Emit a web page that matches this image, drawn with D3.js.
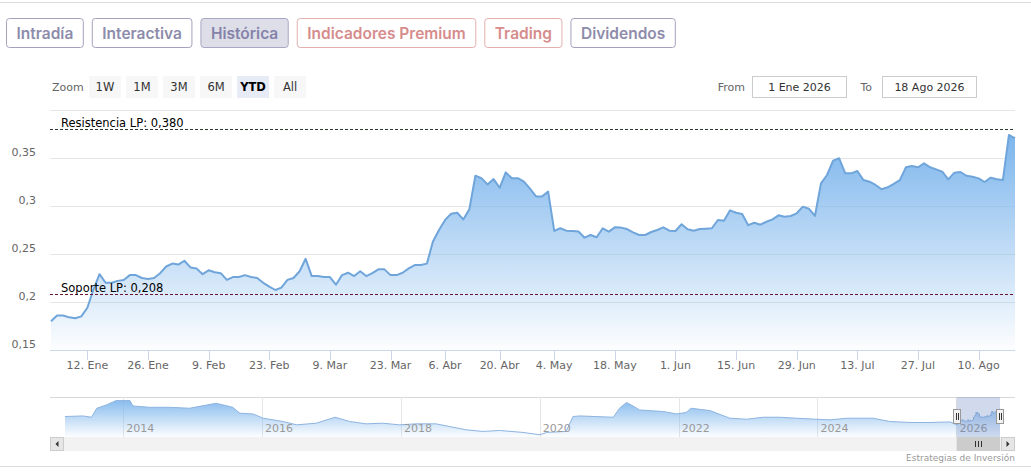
<!DOCTYPE html>
<html>
<head>
<meta charset="utf-8">
<script src="https://cdn.jsdelivr.net/npm/d3@7"></script>
<style>
body { margin: 0; background: #fff; }
svg text { font-family: "DejaVu Sans", Verdana, sans-serif; }
</style>
</head>
<body>
<div id="chart"></div>
<script>
/*global d3*/

//tabs above the chart
var tabs = ["Intradía", "Interactiva", "Histórica", "Indicadores Premium", "Trading", "Dividendos"];
var activeTab = "Histórica";
var premiumTabs = ["Indicadores Premium", "Trading"];

//range selector
var rangeButtons = ["1W", "1M", "3M", "6M", "YTD", "All"];
var activeRange = "YTD";
var fromLabel = "1 Ene 2026",
    toLabel = "18 Ago 2026";

//trading calendar 2026 (closing days of the market)
var firstDay = "2026-01-01",
    lastDay = "2026-08-18";
var holidays = ["2026-01-01", "2026-04-03", "2026-04-06", "2026-05-01"];

//daily closes, one per trading day
var closes = [
    0.180, 0.186, 0.186, 0.184, 0.183, 0.185, 0.194, 0.213, 0.229, 0.220,
    0.220, 0.222, 0.223, 0.228, 0.228, 0.225, 0.224, 0.225, 0.230, 0.237,
    0.240, 0.239, 0.243, 0.236, 0.235, 0.229, 0.233, 0.231, 0.230, 0.223,
    0.226, 0.226, 0.228, 0.226, 0.225, 0.220, 0.216, 0.2125, 0.215, 0.223,
    0.225, 0.232, 0.245, 0.227, 0.227, 0.226, 0.226, 0.218, 0.228, 0.2305,
    0.227, 0.232, 0.227, 0.230, 0.234, 0.234, 0.228, 0.228, 0.2305, 0.235,
    0.2385, 0.2385, 0.240, 0.263, 0.275, 0.2855, 0.292, 0.293, 0.286, 0.2965,
    0.3315, 0.329, 0.3225, 0.328, 0.319, 0.335, 0.329, 0.329, 0.3255, 0.318,
    0.310, 0.310, 0.315, 0.274, 0.2768, 0.2743, 0.274, 0.2735, 0.267, 0.2698,
    0.2674, 0.2768, 0.2733, 0.2778, 0.2775, 0.276, 0.2726, 0.2698, 0.2698, 0.2729,
    0.275, 0.2778, 0.2743, 0.274, 0.281, 0.2757, 0.2743, 0.276, 0.2764, 0.2768,
    0.2854, 0.2847, 0.2955, 0.293, 0.2917, 0.280, 0.2826, 0.2805, 0.2836, 0.2861,
    0.2903, 0.2889, 0.2896, 0.2924, 0.2993, 0.2972, 0.2896, 0.3236, 0.3323, 0.3472,
    0.3497, 0.334, 0.334, 0.3365, 0.327, 0.3253, 0.3219, 0.3174, 0.3195, 0.323,
    0.327, 0.3403, 0.3417, 0.3403, 0.3445, 0.3403, 0.3382, 0.3357, 0.3278, 0.3347,
    0.3354, 0.3315, 0.3305, 0.3288, 0.325, 0.3295, 0.3278, 0.327, 0.374, 0.3705
];

//support / resistance lines
var resistencia = 0.380,
    soporte = 0.208;

//axis ticks
var yTicks = [0.15, 0.2, 0.25, 0.3, 0.35, 0.4];
var xTickDates = ["2026-01-12", "2026-01-26", "2026-02-09", "2026-02-23", "2026-03-09", "2026-03-23",
    "2026-04-06", "2026-04-20", "2026-05-04", "2026-05-18", "2026-06-01", "2026-06-15",
    "2026-06-29", "2026-07-13", "2026-07-27", "2026-08-10"];
var meses = ["Ene", "Feb", "Mar", "Abr", "May", "Jun", "Jul", "Ago", "Sep", "Oct", "Nov", "Dic"];

//long history for the navigator
var navDates = ["2013-03-01", "2013-06-03", "2013-07-19", "2013-08-15", "2013-10-04", "2013-11-25",
    "2014-02-06", "2014-02-21", "2014-05-19", "2014-09-02", "2014-12-16",
    "2015-05-05", "2015-07-31", "2015-09-07", "2015-11-14",
    "2016-01-08", "2016-04-20", "2016-07-01", "2016-10-12",
    "2017-01-19", "2017-04-06", "2017-07-01", "2017-09-27", "2017-12-24",
    "2018-03-22", "2018-07-05", "2018-09-13", "2018-12-10",
    "2019-03-07", "2019-06-03", "2019-10-05",
    "2020-01-02", "2020-02-07", "2020-05-19", "2020-06-24", "2020-07-31",
    "2021-01-22", "2021-02-24", "2021-04-01", "2021-04-27", "2021-06-10", "2021-10-12", "2021-12-20",
    "2022-02-09", "2022-03-07", "2022-06-14", "2022-09-27", "2022-12-24",
    "2023-03-22", "2023-06-18", "2023-09-13", "2023-12-24",
    "2024-03-07", "2024-06-03", "2024-10-19",
    "2025-01-15", "2025-05-01", "2025-08-15", "2025-11-28"];
var navValues = [0.281, 0.288, 0.272, 0.382, 0.422, 0.476,
    0.476, 0.410, 0.394, 0.394, 0.382,
    0.443, 0.394, 0.321, 0.313,
    0.260, 0.220, 0.179, 0.199,
    0.272, 0.220, 0.191, 0.199, 0.179,
    0.191, 0.191, 0.159, 0.118,
    0.098, 0.110, 0.086,
    0.057, 0.086, 0.098, 0.281, 0.288,
    0.272, 0.382, 0.452, 0.422, 0.361, 0.342, 0.313,
    0.330, 0.382, 0.354, 0.260, 0.248,
    0.272, 0.272, 0.260, 0.248,
    0.240, 0.260, 0.260,
    0.220, 0.208, 0.208, 0.215];
var navYears = [2014, 2016, 2018, 2020, 2022, 2024, 2026];

var W = 1031, H = 471;
var parse = d3.timeParse("%Y-%m-%d"),
    fmt = d3.timeFormat("%Y-%m-%d");

//build the trading days (weekdays that are not holidays)
var tradingDays = d3.timeDays(parse(firstDay), d3.timeDay.offset(parse(lastDay), 1))
    .filter(function(d) { return d.getDay() % 6 !== 0 && holidays.indexOf(fmt(d)) < 0; });

var svg = d3.select("#chart").append("svg")
    .attr("width", W)
    .attr("height", H);

var defs = svg.append("defs");

//gradient for the areas
var grad = defs.append("linearGradient")
    .attr("id", "areaFill")
    .attr("x1", 0).attr("y1", 0).attr("x2", 0).attr("y2", 1);
grad.append("stop").attr("offset", 0).attr("stop-color", "#7cb5ec").attr("stop-opacity", 1);
grad.append("stop").attr("offset", 1).attr("stop-color", "#7cb5ec").attr("stop-opacity", 0.02);

//top / bottom separators
svg.append("line").attr("x1", 0).attr("x2", W).attr("y1", 2.5).attr("y2", 2.5)
    .attr("stroke", "#dcdcdc");
svg.append("line").attr("x1", 0).attr("x2", W).attr("y1", 466.5).attr("y2", 466.5)
    .attr("stroke", "#dcdcdc");

//tab buttons
var tabX = 6.5;
tabs.forEach(function(t) {
    var premium = premiumTabs.indexOf(t) >= 0,
        active = t === activeTab;
    var g = svg.append("g");
    var rect = g.append("rect");
    var txt = g.append("text")
        .attr("y", 38.5)
        .style("font-family", "Inter, 'Open Sans', sans-serif")
        .style("font-weight", 600)
        .style("font-size", "15.5px")
        .attr("fill", premium ? "#d68c8c" : (active ? "#8583a9" : "#8e8cab"))
        .text(t);
    var w = txt.node().getComputedTextLength() + 20;
    txt.attr("x", tabX + w / 2).attr("text-anchor", "middle");
    rect.attr("x", tabX).attr("y", 18.5).attr("width", w).attr("height", 29)
        .attr("rx", 3)
        .attr("fill", active ? "#dedee9" : "#fff")
        .attr("stroke", premium ? "#e2b0ae" : (active ? "#a9a8c4" : "#a3a2bd"));
    tabX += w + 9;
});

//range selector
svg.append("text").attr("x", 52).attr("y", 91).attr("fill", "#666")
    .style("font-size", "11px").text("Zoom");

var btnX = d3.scaleBand().domain(rangeButtons).range([89, 306]).paddingInner(0.14);
var btn = svg.selectAll(".btn")
    .data(rangeButtons)
    .enter().append("g")
    .attr("class", "btn");
btn.append("rect")
    .attr("x", function(d) { return btnX(d); })
    .attr("y", 76)
    .attr("width", btnX.bandwidth())
    .attr("height", 22)
    .attr("fill", function(d) { return d === activeRange ? "#e6ebf5" : "#f7f7f7"; });
btn.append("text")
    .attr("x", function(d) { return btnX(d) + btnX.bandwidth() / 2; })
    .attr("y", 91)
    .attr("text-anchor", "middle")
    .attr("fill", function(d) { return d === activeRange ? "#000" : "#333"; })
    .style("font-weight", function(d) { return d === activeRange ? "bold" : "normal"; })
    .style("font-size", "11.5px")
    .text(function(d) { return d; });

//from / to inputs
[["From", fromLabel, 745, 752.5], ["To", toLabel, 872, 882.5]].forEach(function(f) {
    svg.append("text").attr("x", f[2]).attr("y", 91).attr("text-anchor", "end")
        .attr("fill", "#666").style("font-size", "11px").text(f[0]);
    svg.append("rect").attr("x", f[3]).attr("y", 76.5).attr("width", 94).attr("height", 21)
        .attr("fill", "#fff").attr("stroke", "#cccccc");
    svg.append("text").attr("x", f[3] + 47).attr("y", 91).attr("text-anchor", "middle")
        .attr("fill", "#333").style("font-size", "11px").text(f[1]);
});

//main chart scales
var x = d3.scaleLinear().domain([0, closes.length - 1]).range([51, 1015]),
    y = d3.scaleLinear().domain([0.15, 0.40]).range([350, 110]);

var num = d3.formatLocale({ decimal: ",", thousands: ".", grouping: [3], currency: ["", "€"] });

//horizontal grid
svg.selectAll(".grid")
    .data(yTicks)
    .enter().append("line")
    .attr("class", "grid")
    .attr("x1", 50).attr("x2", 1015)
    .attr("y1", function(d) { return Math.round(y(d)) + 0.5; })
    .attr("y2", function(d) { return Math.round(y(d)) + 0.5; })
    .attr("stroke", "#e6e6e6");

//y labels
svg.selectAll(".ylab")
    .data(yTicks.slice(0, -1))
    .enter().append("text")
    .attr("x", 36)
    .attr("y", function(d) { return y(d) - 2; })
    .attr("text-anchor", "end")
    .attr("fill", "#666")
    .style("font-size", "11px")
    .text(function(d) { return num.format("~g")(d); });

//area and line
var area = d3.area()
    .x(function(d, i) { return x(i); })
    .y0(y(0.15))
    .y1(function(d) { return y(d); });

var line = d3.line()
    .x(function(d, i) { return x(i); })
    .y(function(d) { return y(d); });

svg.append("path")
    .datum(closes)
    .attr("d", area)
    .attr("fill", "url(#areaFill)");

svg.append("path")
    .datum(closes)
    .attr("d", line)
    .attr("fill", "none")
    .attr("stroke", "#6fa5da")
    .attr("stroke-width", 2)
    .attr("stroke-linejoin", "round");

//x axis
svg.append("line").attr("x1", 50).attr("x2", 1015).attr("y1", 350.5).attr("y2", 350.5)
    .attr("stroke", "#ccd6eb");

var xTicks = xTickDates.map(function(s) {
    var d = parse(s);
    var idx = tradingDays.findIndex(function(t) { return t >= d; });
    return { idx: idx, label: d.getDate() + ". " + meses[d.getMonth()] };
});

svg.selectAll(".xtick")
    .data(xTicks)
    .enter().append("line")
    .attr("x1", function(d) { return Math.round(x(d.idx)) + 0.5; })
    .attr("x2", function(d) { return Math.round(x(d.idx)) + 0.5; })
    .attr("y1", 350).attr("y2", 360)
    .attr("stroke", "#ccd6eb");

svg.selectAll(".xlab")
    .data(xTicks)
    .enter().append("text")
    .attr("x", function(d) { return x(d.idx); })
    .attr("y", 369)
    .attr("text-anchor", "middle")
    .attr("fill", "#666")
    .style("font-size", "11px")
    .text(function(d) { return d.label; });

//support and resistance
[[resistencia, "Resistencia LP: ", "#2f3a2f"], [soporte, "Soporte LP: ", "#6a1634"]].forEach(function(p) {
    var py = Math.round(y(p[0])) + 0.5;
    svg.append("line").attr("x1", 50).attr("x2", 1015).attr("y1", py).attr("y2", py)
        .attr("stroke", p[2]).attr("stroke-dasharray", "3,2");
    svg.append("text").attr("x", 61).attr("y", py - 3)
        .attr("fill", "#000").style("font-size", "11.5px")
        .text(p[1] + num.format(".3f")(p[0]));
});

//navigator
var navData = navDates.map(function(s, i) { return { date: parse(s), value: navValues[i] }; })
    .concat(tradingDays.map(function(d, i) { return { date: d, value: closes[i] }; }));

var nx = d3.scaleTime()
    .domain([navData[0].date, navData[navData.length - 1].date])
    .range([65, 1000]);
var ny = d3.scaleLinear().domain([0.03, 0.52]).range([437, 397]);

svg.append("line").attr("x1", 50).attr("x2", 1015).attr("y1", 397.5).attr("y2", 397.5)
    .attr("stroke", "#d8d8d8");

svg.selectAll(".navgrid")
    .data(navYears)
    .enter().append("line")
    .attr("x1", function(d) { return Math.round(nx(new Date(d, 0, 1))) + 0.5; })
    .attr("x2", function(d) { return Math.round(nx(new Date(d, 0, 1))) + 0.5; })
    .attr("y1", 397).attr("y2", 437)
    .attr("stroke", "#e6e6e6");

svg.append("path")
    .datum(navData)
    .attr("d", d3.area()
        .x(function(d) { return nx(d.date); })
        .y0(437)
        .y1(function(d) { return ny(d.value); }))
    .attr("fill", "url(#areaFill)")
    .attr("opacity", 0.9);

svg.append("path")
    .datum(navData)
    .attr("d", d3.line()
        .x(function(d) { return nx(d.date); })
        .y(function(d) { return ny(d.value); }))
    .attr("fill", "none")
    .attr("stroke", "#8db4e0")
    .attr("stroke-width", 1);

svg.selectAll(".navlab")
    .data(navYears)
    .enter().append("text")
    .attr("x", function(d) { return nx(new Date(d, 0, 1)) + 3; })
    .attr("y", 432)
    .attr("fill", "#999")
    .style("font-size", "11px")
    .text(function(d) { return d; });

//selected range mask and handles
var m0 = nx(tradingDays[0]),
    m1 = nx(tradingDays[tradingDays.length - 1]);

svg.append("rect").attr("x", m0).attr("y", 397).attr("width", m1 - m0).attr("height", 40)
    .attr("fill", "rgba(102,133,194,0.3)");

[m0, m1].forEach(function(hx) {
    hx = Math.round(hx);
    svg.append("rect").attr("x", hx - 3.5).attr("y", 409.5).attr("width", 7).attr("height", 14)
        .attr("fill", "#f2f2f2").attr("stroke", "#999");
    [-1, 1].forEach(function(o) {
        svg.append("line").attr("x1", hx + o + 0.5).attr("x2", hx + o + 0.5)
            .attr("y1", 413).attr("y2", 420).attr("stroke", "#333");
    });
});

//scrollbar
svg.append("rect").attr("x", 50).attr("y", 437).attr("width", 965).attr("height", 14)
    .attr("fill", "#f2f2f2");
svg.append("rect").attr("x", m0).attr("y", 437).attr("width", m1 - m0).attr("height", 14)
    .attr("fill", "#cccccc");
[-3, 0, 3].forEach(function(o) {
    var rx = Math.round((m0 + m1) / 2) + o + 0.5;
    svg.append("line").attr("x1", rx).attr("x2", rx).attr("y1", 441).attr("y2", 447)
        .attr("stroke", "#333");
});
[[50.5, -1], [1001.5, 1]].forEach(function(b) {
    svg.append("rect").attr("x", b[0]).attr("y", 437.5).attr("width", 13).attr("height", 13)
        .attr("fill", "#e6e6e6").attr("stroke", "#cccccc");
    var cx = b[0] + 6.5;
    svg.append("path")
        .attr("d", "M" + (cx - 1.5 * b[1]) + ",441 L" + (cx + 1.5 * b[1]) + ",444 L" + (cx - 1.5 * b[1]) + ",447 Z")
        .attr("fill", "#333");
});

//credits
svg.append("text").attr("x", 1015).attr("y", 461).attr("text-anchor", "end")
    .attr("fill", "#999").style("font-size", "9px").text("Estrategias de Inversión");
</script>
</body>
</html>
